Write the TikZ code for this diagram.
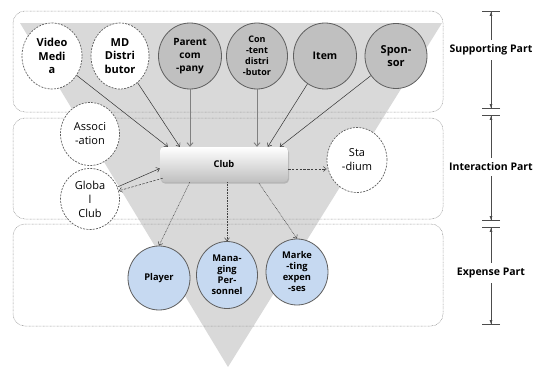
\documentclass[tikz,border=0pt]{standalone}
\usepackage{fontspec}
\setmainfont{Open Sans}
\usetikzlibrary{arrows.meta,shapes.geometric,shadows,calc}
\definecolor{funnel}{HTML}{D9D9D9}
\definecolor{corefill}{HTML}{C0C0C0}
\definecolor{costfill}{HTML}{C6D9F1}
\definecolor{rim}{HTML}{5F5F5F}

\begin{document}
\begin{tikzpicture}[x=1pt,y=-1pt,
  band/.style={draw=black!40, dash pattern=on 0.7pt off 0.7pt, line width=0.5pt, rounded corners=12pt},
  actor/.style={ellipse, inner sep=0pt, align=center, minimum width=#1},
  actor/.default=61pt,
  open/.style={actor, draw=rim, dash pattern=on 2pt off 1.2pt, line width=0.7pt, fill=white},
  core/.style={actor, draw=rim, line width=0.8pt, fill=corefill},
  cost/.style={actor, draw=rim, line width=0.8pt, fill=costfill,
    font=\bfseries\fontsize{9.3}{11}\selectfont},
  clubbox/.style={rounded corners=4pt, minimum width=128pt, minimum height=35pt,
    top color=white, bottom color=black!25, draw=none,
    drop shadow={opacity=0.4, shadow xshift=1pt, shadow yshift=-1.5pt},
    font=\bfseries\fontsize{9.3}{11}\selectfont},
  feed/.style={draw=black!80, line width=0.5pt, -{Straight Barb[length=3pt,width=5pt]}},
  grayfeed/.style={draw=black!50, line width=0.9pt, -{Straight Barb[length=3.5pt,width=6pt]}},
  dashfeed/.style={draw=black!75, line width=0.5pt, dash pattern=on 2.4pt off 1.4pt,
    -{Straight Barb[length=3pt,width=5pt]}},
  dotfeed/.style={draw=black!75, line width=0.5pt, dash pattern=on 0.8pt off 0.8pt,
    -{Straight Barb[length=3pt,width=5pt]}},
  dimline/.style={draw=black!70, line width=0.6pt,
    {Bar[width=18pt,line width=0.8pt]Latex[length=4pt,width=3pt]}-{Latex[length=4pt,width=3pt]Bar[width=18pt,line width=0.8pt]}},
  partlabel/.style={fill=white, inner xsep=1pt, inner ysep=5pt,
    font=\bfseries\fontsize{10.5}{12}\selectfont}
]
\useasboundingbox[fill=white] (0,0) rectangle (539,367);

% funnel
\fill[funnel] (20,23) -- (442,23) -- (228,367) -- cycle;

% the three bands
\draw[band] (13,11) rectangle (443,112);
\draw[band] (13,118) rectangle (443,219);
\draw[band] (13,224) rectangle (443,326);

% supporting actors
\node[open, minimum height=66pt, minimum width=60pt, font=\bfseries\fontsize{11}{13.5}\selectfont]
  (vm) at (52,56) {Video\\Medi\\a};
\node[open, minimum height=66pt, minimum width=58pt, font=\bfseries\fontsize{11}{13.5}\selectfont]
  (md) at (120,56) {MD\\Distri\\butor};
\node[core, minimum height=66pt, minimum width=63pt, font=\bfseries\fontsize{10}{13}\selectfont]
  (pc) at (190,56) {Parent\\com\\-pany};
\node[core, minimum height=66pt, minimum width=61pt, font=\bfseries\fontsize{9}{11}\selectfont]
  (cd) at (257,56) {Con\\-tent\\distri\\-butor};
\node[core, minimum height=66pt, minimum width=63pt, font=\bfseries\fontsize{10.5}{13}\selectfont]
  (it) at (325,56) {Item};
\node[core, minimum height=65pt, minimum width=62pt, font=\bfseries\fontsize{11}{13.5}\selectfont]
  (sp) at (396,56) {Spon-\\sor};

% interaction actors
\node[clubbox] (club) at (224,164.5) {Club};
\node[open, minimum height=63pt, minimum width=59pt, font=\fontsize{11}{14}\selectfont]
  (as) at (90,134) {Associ\\-ation};
\node[open, minimum height=61pt, minimum width=59pt, font=\fontsize{11}{14}\selectfont]
  (gc) at (90,199) {Globa\\l\\Club};
\node[open, minimum height=65pt, minimum width=60pt, font=\fontsize{11}{14}\selectfont]
  (st) at (357,160) {Sta\\-dium};

% expense actors
\node[cost, minimum height=64pt, minimum width=62pt] (pl) at (159,278) {Player};
\node[cost, minimum height=67pt, minimum width=61pt] (mp) at (227,275) {Mana-\\ging\\Per-\\sonnel};
\node[cost, minimum height=66pt, minimum width=62pt] (mk) at (297,272) {Marke\\-ting\\expen\\-ses};

% supporting -> club
\draw[feed] (vm) -- ($(club.north west)+(8,0)$);
\draw[feed] (md) -- ($(club.north west)+(20,0)$);
\draw[grayfeed] (pc) -- (pc |- club.north);
\draw[grayfeed] (cd) -- (cd |- club.north);
\draw[feed] (it) -- ($(club.north west)+(108,0)$);
\draw[feed] (sp) -- ($(club.north west)+(120,0)$);

% interaction links
\draw[feed] (gc) -- ($(club.west)+(0,4)$);
\draw[dashfeed] ($(club.south west)+(3,-4)$) -- (gc);
\coordinate (cs) at ($(club.east)+(0,4.5)$);
\draw[dashfeed] (cs) -- (cs -| st.west);

% club -> expenses
\draw[dotfeed] ($(club.south west)+(30,0)$) -- (pl.north);
\draw[dotfeed] (mp.north |- club.south) -- (mp.north);
\draw[dotfeed] ($(club.south)+(35,1)$) -- (mk.north);

% part dimensions
\coordinate (s1) at (491,11);  \coordinate (s2) at (491,109);
\coordinate (i1) at (491,115); \coordinate (i2) at (491,221);
\coordinate (e1) at (491,227); \coordinate (e2) at (491,325);
\draw[dimline] (s1) -- (s2);
\draw[dimline] (i1) -- (i2);
\draw[dimline] (e1) -- (e2);
\node[partlabel] (ls) at (491,50) {Supporting Part};
\node[partlabel] (li) at (491,167) {Interaction Part};
\node[partlabel] (le) at (491,273) {Expense Part};
\end{tikzpicture}
\end{document}
